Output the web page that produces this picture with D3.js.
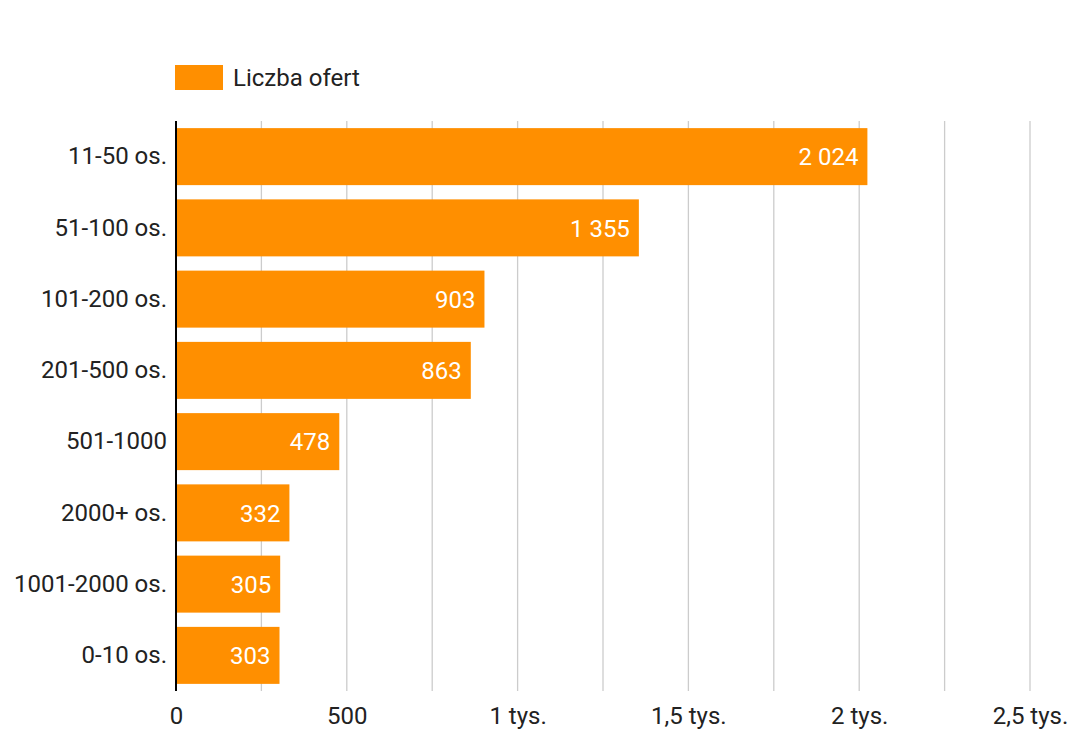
<!DOCTYPE html>
<html>
<head>
<meta charset="utf-8">
<script src="https://cdn.jsdelivr.net/npm/d3@7"></script>
<style>
  body { margin: 0; background: #fff; }
  text { font-family: Roboto, "Noto Sans", sans-serif; }
</style>
</head>
<body>
<div id="chart"></div>
<script>
// Data
const categories = ["11-50 os.", "51-100 os.", "101-200 os.", "201-500 os.", "501-1000", "2000+ os.", "1001-2000 os.", "0-10 os."];
const offers = [2024, 1355, 903, 863, 478, 332, 305, 303];
const tickValues = [0, 500, 1000, 1500, 2000, 2500];
const tickLabels = ["0", "500", "1 tys.", "1,5 tys.", "2 tys.", "2,5 tys."];
const seriesName = "Liczba ofert";

const W = 1070, H = 730;
const margin = {top: 121, right: 40, bottom: 39, left: 176};
const width = 1030 - margin.left;
const height = H - margin.top - margin.bottom;

const svg = d3.select("#chart").append("svg")
    .attr("width", W)
    .attr("height", H);

const g = svg.append("g")
    .attr("transform", `translate(${margin.left}, ${margin.top})`);

const x = d3.scaleLinear().domain([0, 2500]).range([0, width]);
const y = d3.scaleBand()
    .domain(categories)
    .range([0, height])
    .paddingInner(0.2)
    .paddingOuter(0.1);

// vertical gridlines every 250
const gridVals = d3.range(250, 2501, 250);
g.selectAll(".grid")
    .data(gridVals)
    .enter()
    .append("line")
    .attr("x1", d => x(d))
    .attr("x2", d => x(d))
    .attr("y1", 0)
    .attr("y2", height)
    .attr("stroke", "#cccccc")
    .attr("stroke-width", 1.3);

// bars
g.selectAll(".bar")
    .data(offers)
    .enter()
    .append("rect")
    .attr("class", "bar")
    .attr("x", 0)
    .attr("y", (d, i) => y(categories[i]))
    .attr("width", d => x(d))
    .attr("height", y.bandwidth())
    .attr("fill", "#ff8f00");

// value labels inside bars
const fmt = v => d3.format(",")(v).replace(/,/g, " ");
g.selectAll(".val")
    .data(offers)
    .enter()
    .append("text")
    .attr("x", d => x(d) - 9)
    .attr("y", (d, i) => y(categories[i]) + y.bandwidth() / 2)
    .attr("dy", "0.36em")
    .attr("text-anchor", "end")
    .attr("fill", "#ffffff")
    .style("font-size", "24px")
    .text(d => fmt(d));

// y axis line
g.append("line")
    .attr("x1", 0).attr("x2", 0)
    .attr("y1", 0).attr("y2", height)
    .attr("stroke", "#000")
    .attr("stroke-width", 2);

// category labels
g.append("g")
    .call(d3.axisLeft(y).tickSize(0).tickPadding(9))
    .call(a => a.select(".domain").remove())
    .selectAll("text")
    .attr("fill", "#222")
    .style("font-size", "24px")
    .style("font-family", "Roboto, sans-serif");

// x tick labels
g.append("g")
    .attr("transform", `translate(0, ${height})`)
    .call(d3.axisBottom(x).tickValues(tickValues).tickSize(0).tickPadding(16)
        .tickFormat((d, i) => tickLabels[i]))
    .call(a => a.select(".domain").remove())
    .selectAll("text")
    .attr("fill", "#222")
    .style("font-size", "24px")
    .style("font-family", "Roboto, sans-serif");

// legend
svg.append("rect")
    .attr("x", 175).attr("y", 65)
    .attr("width", 48).attr("height", 25)
    .attr("fill", "#ff8f00");
svg.append("text")
    .attr("x", 233).attr("y", 86)
    .attr("fill", "#222")
    .style("font-size", "24px")
    .text(seriesName);
</script>
</body>
</html>
